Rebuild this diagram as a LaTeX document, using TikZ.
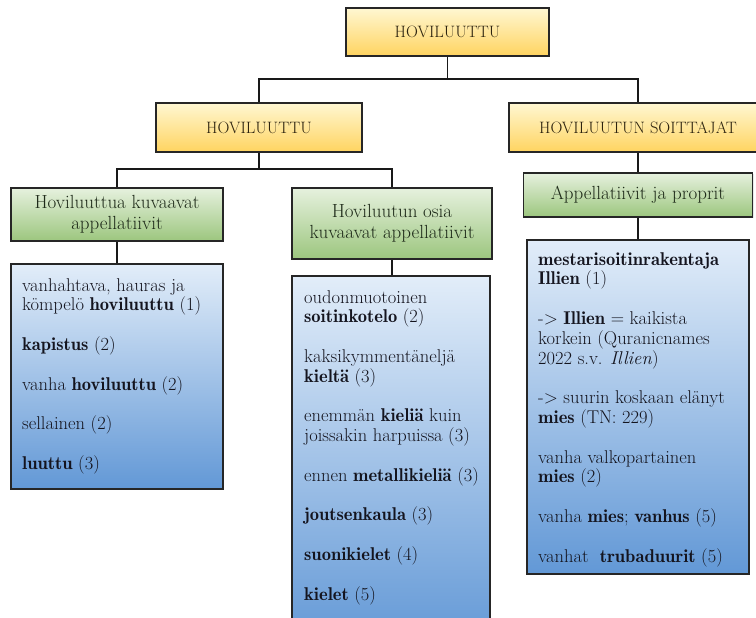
\documentclass[tikz,border=0pt]{standalone}
\usetikzlibrary{shadows}
\definecolor{orTop}{RGB}{255,247,210}
\definecolor{orBot}{RGB}{255,212,96}
\definecolor{grTop}{RGB}{230,241,222}
\definecolor{grBot}{RGB}{156,198,126}
\definecolor{blTop}{RGB}{226,237,249}
\definecolor{blBot}{RGB}{98,152,214}
\definecolor{orTxt}{RGB}{45,35,15}
\definecolor{grTxt}{RGB}{30,42,25}
\definecolor{blTxt}{RGB}{20,20,30}
\newcommand{\bd}[1]{{\fontseries{b}\selectfont #1}}
\tikzset{
  box/.style={draw=black!85, line width=1.6pt, rectangle, inner sep=0pt,
    drop shadow={opacity=0.18, shadow xshift=1.2pt, shadow yshift=-1.2pt}},
  orbox/.style={box, top color=orTop, bottom color=orBot, text=orTxt,
    font=\fontsize{16.5}{19}\selectfont},
  grbox/.style={box, top color=grTop, bottom color=grBot, text=grTxt, align=center,
    font=\fontsize{19}{21}\selectfont},
  blbox/.style={box, top color=blTop, bottom color=blBot},
  bltext/.style={align=left, inner sep=0pt, text=blTxt, anchor=north west,
    font=\fontsize{18.5}{19.8}\selectfont},
  conn/.style={draw=black!90, line width=1.6pt}
}
\begin{document}
\begin{tikzpicture}[x=1pt,y=-1pt]
\useasboundingbox (0,0) rectangle (756,618);
\clip (0,0) rectangle (756,618);

% level 1 and 2
\node[orbox, minimum width=203pt, minimum height=48pt] (top) at (447.5,32) {HOVILUUTTU};
\node[orbox, minimum width=206pt, minimum height=49pt] (hl) at (259,127.5) {HOVILUUTTU};
\node[orbox, minimum width=258pt, minimum height=49pt] (hs) at (638,127.5) {HOVILUUTUN SOITTAJAT};

% green boxes
\node[grbox, minimum width=212pt, minimum height=53pt] (g1) at (117,214.5) {Hoviluuttua kuvaavat\\appellatiivit};
\node[grbox, minimum width=200pt, minimum height=71pt] (g2) at (392,223.5) {Hoviluutun osia\\kuvaavat appellatiivit};
\node[grbox, minimum width=229pt, minimum height=44pt] (g3) at (638,195) {Appellatiivit ja proprit};

% blue boxes
\node[blbox, minimum width=212pt, minimum height=225pt] (b1) at (117,376.5) {};
\node[blbox, minimum width=198pt, minimum height=370pt] (b2) at (391,461) {};
\node[blbox, minimum width=222pt, minimum height=334pt] (b3) at (638,407) {};

\node[bltext] (t1) at (22,277) {\strut vanhahtava, hauras ja\\
kömpelö \bd{hoviluuttu} (1)\\[19.8pt]
\bd{kapistus} (2)\\[19.8pt]
vanha \bd{hoviluuttu} (2)\\[19.8pt]
sellainen (2)\\[19.8pt]
\bd{luuttu} (3)};

\node[bltext] (t2) at (304,289) {\strut oudonmuotoinen\\
\bd{soitinkotelo} (2)\\[19.8pt]
kaksikymmentäneljä\\
\bd{kieltä} (3)\\[19.8pt]
enemmän \bd{kieliä} kuin\\
joissakin harpuissa (3)\\[19.8pt]
ennen \bd{metallikieliä} (3)\\[19.8pt]
\bd{joutsenkaula} (3)\\[19.8pt]
\bd{suonikielet} (4)\\[19.8pt]
\bd{kielet} (5)};

\node[bltext] (t3) at (538,251) {\strut\bd{mestarisoitinrakentaja}\\
\bd{Illien} (1)\\[19.8pt]
-> \bd{Illien} = kaikista\\
korkein (Quranicnames\\
2022 s.v. \textit{Illien})\\[19.8pt]
-> suurin koskaan elänyt\\
\bd{mies} (TN: 229)\\[19.8pt]
vanha valkopartainen\\
\bd{mies} (2)\\[19.8pt]
vanha \bd{mies}; \bd{vanhus} (5)\\[19.8pt]
vanhat \ \bd{trubaduurit} (5)};

% connectors
\coordinate (j1) at (447.5,79);
\coordinate (j2) at (259,169);
\draw[conn] (top.south) -- (j1);
\draw[conn] (hl.north) |- (j1) -| (hs.north);
\draw[conn] (hl.south) -- (j2);
\draw[conn] (g1.north) |- (j2) -| (g2.north);
\draw[conn] (g1.south) -- (b1.north);
\draw[conn] (g2.south) -- (g2.south |- b2.north);
\draw[conn] (hs.south) -- (g3.north);
\draw[conn] (g3.south) -- (b3.north);
\end{tikzpicture}
\end{document}
